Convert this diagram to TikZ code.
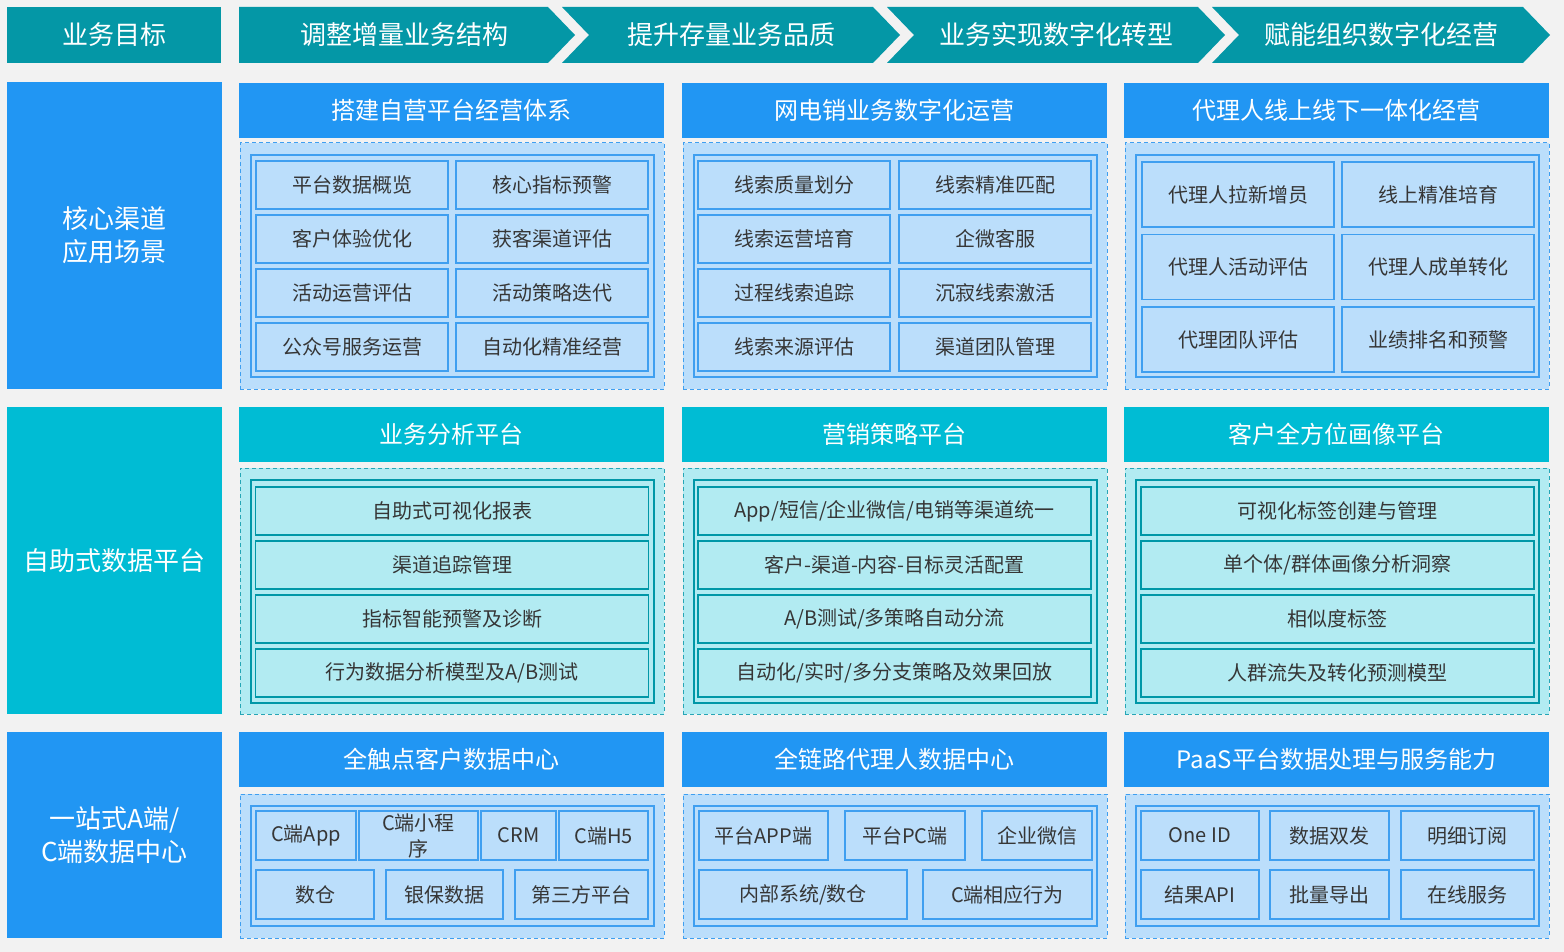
\documentclass[tikz,border=0pt]{standalone}
\usepackage{fontspec}
\setmainfont{Noto Sans CJK SC}
\usetikzlibrary{positioning}
\definecolor{bggray}{HTML}{F2F2F2}
\definecolor{goalteal}{HTML}{0497A6}
\definecolor{mainblue}{HTML}{2196F3}
\definecolor{maincyan}{HTML}{00BCD4}
\definecolor{paleblue}{HTML}{BBDEFB}
\definecolor{palecyan}{HTML}{B2EBF2}
\definecolor{cellblue}{HTML}{3F9FF0}
\definecolor{cellteal}{HTML}{0097A7}
\definecolor{dashteal}{HTML}{26A6B6}
\definecolor{textgray}{HTML}{363636}

\begin{document}
\begin{tikzpicture}[x=1pt, y=-1pt,
  goaltext/.style={text=white, font=\fontsize{26}{30}\selectfont, inner sep=0pt},
  goalbox/.style={goaltext, fill=goalteal, minimum width=214, minimum height=56},
  sidebox/.style={text=white, font=\fontsize{26}{33}\selectfont, align=center, inner sep=0pt, minimum width=215},
  headbox/.style={text=white, font=\fontsize{24}{28}\selectfont, inner sep=0pt, minimum width=425, minimum height=55},
  panelbox/.style={dash pattern=on 4pt off 3pt, line width=1pt, minimum width=424, inner sep=0pt},
  innerbox/.style={line width=1.2pt, minimum width=403, inner sep=0pt},
  cellbox/.style={line width=1.2pt, text=textgray, font=\fontsize{20}{26}\selectfont, align=center, inner sep=0pt},
  bluecell/.style={cellbox, fill=paleblue, draw=cellblue},
  cyancell/.style={cellbox, fill=palecyan, draw=cellteal},
]

  \fill[bggray] (0,0) rectangle (1564,952);

  % goals along the top
  \node[goalbox] (goal) at (114,35) {业务目标};
  \fill[goalteal] (239,7) -- (548,7) -- (575,35) -- (548,63) -- (239,63) -- cycle;
  \node[goaltext] (goal0) at (404,35) {调整增量业务结构};
  \foreach \k/\txt in {1/提升存量业务品质, 2/业务实现数字化转型, 3/赋能组织数字化经营} {
    \pgfmathsetmacro{\L}{237+325*\k}
    \pgfmathsetmacro{\R}{\L+311}
    \fill[goalteal] (\L,7) -- (\R,7) -- (\R+27,35) -- (\R,63) -- (\L,63) -- (\L+27,35) -- cycle;
    \node[goaltext] (goal\k) at ({(\L+27+\R)/2},35) {\txt};
  }

  % row labels
  \node[sidebox, fill=mainblue, minimum height=307] (core) at (114.5,235.5) {核心渠道\\应用场景};
  \node[sidebox, fill=maincyan, minimum height=307] (selfdata) at (114.5,560.5) {自助式数据平台};
  \node[sidebox, fill=mainblue, minimum height=206] (onestop) at (114.5,835) {一站式A端/\\C端数据中心};

  % headers and panels
  \foreach \c/\dx/\ta/\tb/\tc in {1/0/搭建自营平台经营体系/业务分析平台/全触点客户数据中心,
      2/443/网电销业务数字化运营/营销策略平台/全链路代理人数据中心,
      3/885/代理人线上线下一体化经营/客户全方位画像平台/PaaS平台数据处理与服务能力} {
    \node[headbox, fill=mainblue] (heada\c) at (451.5+\dx,110.5) {\ta};
    \node[panelbox, draw=cellblue, fill=paleblue, minimum height=246] (panela\c) at (452+\dx,266) {};
    \node[innerbox, draw=cellblue, minimum height=222] (innera\c) at (452.5+\dx,266) {};
    \node[headbox, fill=maincyan] (headb\c) at (451.5+\dx,434.5) {\tb};
    \node[panelbox, draw=dashteal, fill=palecyan, minimum height=246] (panelb\c) at (452+\dx,591) {};
    \node[innerbox, draw=cellteal, minimum height=223] (innerb\c) at (452.5+\dx,591.5) {};
    \node[headbox, fill=mainblue] (headc\c) at (451.5+\dx,759.5) {\tc};
    \node[panelbox, draw=cellblue, fill=paleblue, minimum height=144] (panelc\c) at (452+\dx,866) {};
    \node[innerbox, draw=cellblue, minimum height=120] (innerc\c) at (452.5+\dx,866) {};
  }

  % channel scenes
  \foreach \x/\j/\txt [count=\n] in {352/0/平台数据概览, 552/0/核心指标预警, 352/1/客户体验优化, 552/1/获客渠道评估,
      352/2/活动运营评估, 552/2/活动策略迭代, 352/3/公众号服务运营, 552/3/自动化精准经营,
      794/0/线索质量划分, 995/0/线索精准匹配, 794/1/线索运营培育, 995/1/企微客服,
      794/2/过程线索追踪, 995/2/沉寂线索激活, 794/3/线索来源评估, 995/3/渠道团队管理}
    \node[bluecell, minimum width=192, minimum height=48] (scene\n) at (\x,185+54*\j) {\txt};
  \foreach \x/\j/\txt [count=\n] in {1238/0/代理人拉新增员, 1438/0/线上精准培育, 1238/1/代理人活动评估,
      1438/1/代理人成单转化, 1238/2/代理团队评估, 1438/2/业绩排名和预警}
    \node[bluecell, minimum width=192, minimum height=65] (agent\n) at (\x,194.5+72.5*\j) {\txt};

  % self-service platforms
  \foreach \x/\j/\txt [count=\n] in {452/0/自助式可视化报表, 452/1/渠道追踪管理, 452/2/指标智能预警及诊断,
      452/3/{行为数据分析模型及A/B测试},
      894.5/0/{App/短信/企业微信/电销等渠道统一}, 894.5/1/客户-渠道-内容-目标灵活配置,
      894.5/2/{A/B测试/多策略自动分流}, 894.5/3/{自动化/实时/多分支策略及效果回放},
      1337.5/0/可视化标签创建与管理, 1337.5/1/{单个体/群体画像分析洞察}, 1337.5/2/相似度标签,
      1337.5/3/人群流失及转化预测模型}
    \node[cyancell, minimum width=393, minimum height=48] (tool\n) at (\x,511+54*\j) {\txt};

  % data centres
  \foreach \x/\y/\w/\txt [count=\n] in {306/835.5/100/C端App, 418.5/835.5/119/{C端小程\\序},
      518.5/835.5/75/CRM, 603.5/835.5/89/C端H5, 315/894.5/118/数仓, 444.5/894.5/117/银保数据,
      581.5/894.5/133/第三方平台, 763.5/835.5/129/平台APP端, 905/835.5/120/平台PC端,
      1037/835.5/110/企业微信, 803/894.5/208/{内部系统/数仓}, 1007.5/894.5/169/C端相应行为,
      1200/835.5/118/One ID, 1329.5/835.5/119/数据双发, 1467.5/835.5/133/明细订阅,
      1200/894.5/118/结果API, 1329.5/894.5/119/批量导出, 1467.5/894.5/133/在线服务}
    \node[bluecell, minimum width=\w, minimum height=49] (src\n) at (\x,\y) {\txt};

\end{tikzpicture}
\end{document}
